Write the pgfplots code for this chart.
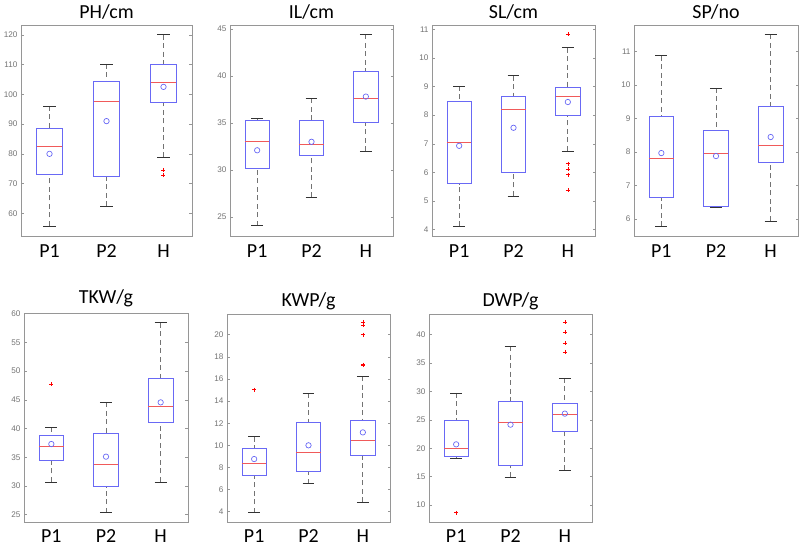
\documentclass[border=0pt]{standalone}
\usepackage{fontspec}
\setmainfont{Carlito}
\newfontfamily\tickfont{Liberation Sans}
\usepackage{pgfplots}
\usepgfplotslibrary{statistics}
\pgfplotsset{compat=1.18}
\definecolor{boxblue}{RGB}{105,105,245}
\definecolor{medred}{RGB}{240,90,90}
\definecolor{framegray}{RGB}{150,150,150}
\pgfplotsset{
  panel/.style={
    scale only axis, anchor=south west,
    boxplot/draw direction=y,
    xmin=0.5, xmax=3.5,
    xtick={1,2,3}, xticklabels={P1,P2,H},
    xtick style={draw=none},
    tick align=inside,
    major tick length=2.5bp,
    ytick style={draw=framegray, line width=0.5bp},
    axis line style={draw=framegray, line width=0.9bp},
    /pgf/number format/assume math mode=true,
    yticklabel style={font=\tickfont\fontsize{8.2}{9}\selectfont, text=black!55},
    xticklabel style={font=\fontsize{20}{22}\selectfont, anchor=base, inner sep=0pt, yshift=-22bp, text=black},
    title style={font=\fontsize{20}{22}\selectfont, at={(0.5,1)}, anchor=base, yshift=1bp},
    boxplot/box extend=0.45,
    boxplot/whisker extend=0.22,
    boxplot/every box/.style={draw=boxblue, solid, line width=0.7bp},
    boxplot/every median/.style={draw=medred, solid, line width=0.8bp},
    boxplot/draw/average/.code={%
      \draw[boxblue, solid, line width=0.7bp]
        (boxplot box cs:\pgfplotsboxplotvalue{average},0.5) circle[radius=2.7bp];
    },
    boxplot/draw/lower whisker/.code={%
      \draw[black!55, line width=0.7bp, dash pattern=on 5bp off 3.5bp]
        (boxplot whisker cs:\pgfplotsboxplotvalue{lower whisker},0.5) --
        (boxplot whisker cs:\pgfplotsboxplotvalue{lower quartile},0.5);
      \draw[black!80, solid, line width=0.7bp]
        (boxplot whisker cs:\pgfplotsboxplotvalue{lower whisker},0) --
        (boxplot whisker cs:\pgfplotsboxplotvalue{lower whisker},1);
    },
    boxplot/draw/upper whisker/.code={%
      \draw[black!55, line width=0.7bp, dash pattern=on 5bp off 3.5bp]
        (boxplot whisker cs:\pgfplotsboxplotvalue{upper whisker},0.5) --
        (boxplot whisker cs:\pgfplotsboxplotvalue{upper quartile},0.5);
      \draw[black!80, solid, line width=0.7bp]
        (boxplot whisker cs:\pgfplotsboxplotvalue{upper whisker},0) --
        (boxplot whisker cs:\pgfplotsboxplotvalue{upper whisker},1);
    },
  },
  bx/.style={red, mark=+, mark size=2bp, mark options={solid, line width=0.6bp}},
}
\begin{document}
\begin{tikzpicture}
\path[use as bounding box] (0,0) rectangle (800bp,546bp);

% ---- PH/cm
\begin{axis}[panel, at={(21bp,310bp)}, width=171bp, height=211bp,
  ymin=52.4, ymax=123.3, ytick={60,70,...,120}, title={PH/cm}]
\addplot[bx, boxplot prepared={draw position=1, lower whisker=55.8, lower quartile=73.2, median=82.5, upper quartile=88.6, upper whisker=96.1, average=80.0}] coordinates {};
\addplot[bx, boxplot prepared={draw position=2, lower whisker=62.4, lower quartile=72.4, median=97.7, upper quartile=104.3, upper whisker=110.2, average=91.0}] coordinates {};
\addplot[bx, boxplot prepared={draw position=3, lower whisker=78.8, lower quartile=97.4, median=104.1, upper quartile=110.0, upper whisker=120.1, average=102.5}] table[row sep=\\, y index=0] {data\\ 74.6\\ 72.9\\};
\end{axis}

% ---- IL/cm
\begin{axis}[panel, at={(230bp,310bp)}, width=163bp, height=211bp,
  ymin=23.0, ymax=45.4, ytick={25,30,...,45}, title={IL/cm}]
\addplot[bx, boxplot prepared={draw position=1, lower whisker=24.1, lower quartile=30.2, median=33.0, upper quartile=35.3, upper whisker=35.5, average=32.1}] coordinates {};
\addplot[bx, boxplot prepared={draw position=2, lower whisker=27.1, lower quartile=31.6, median=32.7, upper quartile=35.3, upper whisker=37.6, average=33.0}] coordinates {};
\addplot[bx, boxplot prepared={draw position=3, lower whisker=32.0, lower quartile=35.05, median=37.6, upper quartile=40.5, upper whisker=44.4, average=37.8}] coordinates {};
\end{axis}

% ---- SL/cm
\begin{axis}[panel, at={(432bp,310bp)}, width=163bp, height=211bp,
  ymin=3.78, ymax=11.15, ytick={4,5,...,11}, title={SL/cm}]
\addplot[bx, boxplot prepared={draw position=1, lower whisker=4.12, lower quartile=5.61, median=7.04, upper quartile=8.48, upper whisker=9.02, average=6.93}] coordinates {};
\addplot[bx, boxplot prepared={draw position=2, lower whisker=5.18, lower quartile=6.02, median=8.19, upper quartile=8.67, upper whisker=9.38, average=7.56}] coordinates {};
\addplot[bx, boxplot prepared={draw position=3, lower whisker=6.75, lower quartile=7.99, median=8.64, upper quartile=8.98, upper whisker=10.36, average=8.46}] table[row sep=\\, y index=0] {data\\ 10.83\\ 6.31\\ 6.11\\ 5.92\\ 5.38\\};
\end{axis}

% ---- SP/no
\begin{axis}[panel, at={(634bp,310bp)}, width=164bp, height=211bp,
  ymin=5.49, ymax=11.80, ytick={6,7,...,11}, title={SP/no}]
\addplot[bx, boxplot prepared={draw position=1, lower whisker=5.78, lower quartile=6.66, median=7.82, upper quartile=9.06, upper whisker=10.88, average=7.97}] coordinates {};
\addplot[bx, boxplot prepared={draw position=2, lower whisker=6.34, lower quartile=6.39, median=7.95, upper quartile=8.65, upper whisker=9.92, average=7.88}] coordinates {};
\addplot[bx, boxplot prepared={draw position=3, lower whisker=5.94, lower quartile=7.69, median=8.19, upper quartile=9.37, upper whisker=11.52, average=8.45}] coordinates {};
\end{axis}

% ---- TKW/g
\begin{axis}[panel, at={(24bp,24bp)}, width=164bp, height=209bp,
  ymin=23.73, ymax=60.1, ytick={25,30,...,60}, title={TKW/g}, title style={yshift=2.4bp},
  xticklabel style={yshift=1.5bp}]
\addplot[bx, boxplot prepared={draw position=1, lower whisker=30.7, lower quartile=34.4, median=36.9, upper quartile=38.8, upper whisker=40.2, average=37.3}] table[row sep=\\, y index=0] {data\\ 47.7\\};
\addplot[bx, boxplot prepared={draw position=2, lower whisker=25.35, lower quartile=29.9, median=33.8, upper quartile=39.2, upper whisker=44.55, average=35.1}] coordinates {};
\addplot[bx, boxplot prepared={draw position=3, lower whisker=30.7, lower quartile=41.0, median=43.8, upper quartile=48.7, upper whisker=58.4, average=44.55}] coordinates {};
\end{axis}

% ---- KWP/g
\begin{axis}[panel, at={(227bp,24bp)}, width=163bp, height=208bp,
  ymin=3.07, ymax=21.87, ytick={4,6,...,20}, title={KWP/g}, title style={yshift=1bp},
  xticklabel style={yshift=1.5bp}]
\addplot[bx, boxplot prepared={draw position=1, lower whisker=3.91, lower quartile=7.26, median=8.34, upper quartile=9.73, upper whisker=10.78, average=8.76}] table[row sep=\\, y index=0] {data\\ 15.03\\};
\addplot[bx, boxplot prepared={draw position=2, lower whisker=6.53, lower quartile=7.62, median=9.33, upper quartile=12.05, upper whisker=14.70, average=10.0}] coordinates {};
\addplot[bx, boxplot prepared={draw position=3, lower whisker=4.87, lower quartile=9.06, median=10.48, upper quartile=12.26, upper whisker=16.26, average=11.17}] table[row sep=\\, y index=0] {data\\ 21.15\\ 20.84\\ 20.0\\ 17.3\\ 17.22\\};
\end{axis}

% ---- DWP/g
\begin{axis}[panel, at={(429bp,24bp)}, width=163bp, height=208bp,
  ymin=7.0, ymax=43.64, ytick={10,15,...,40}, title={DWP/g}, title style={yshift=1bp},
  xticklabel style={yshift=1.5bp}]
\addplot[bx, boxplot prepared={draw position=1, lower whisker=18.28, lower quartile=18.57, median=20.04, upper quartile=24.91, upper whisker=29.73, average=20.68}] table[row sep=\\, y index=0] {data\\ 8.65\\};
\addplot[bx, boxplot prepared={draw position=2, lower whisker=14.93, lower quartile=16.93, median=24.56, upper quartile=28.26, upper whisker=38.0, average=24.15}] coordinates {};
\addplot[bx, boxplot prepared={draw position=3, lower whisker=16.1, lower quartile=23.03, median=25.97, upper quartile=27.96, upper whisker=32.37, average=26.09}] table[row sep=\\, y index=0] {data\\ 42.17\\ 40.41\\ 38.47\\ 36.95\\};
\end{axis}
\end{tikzpicture}
\end{document}
